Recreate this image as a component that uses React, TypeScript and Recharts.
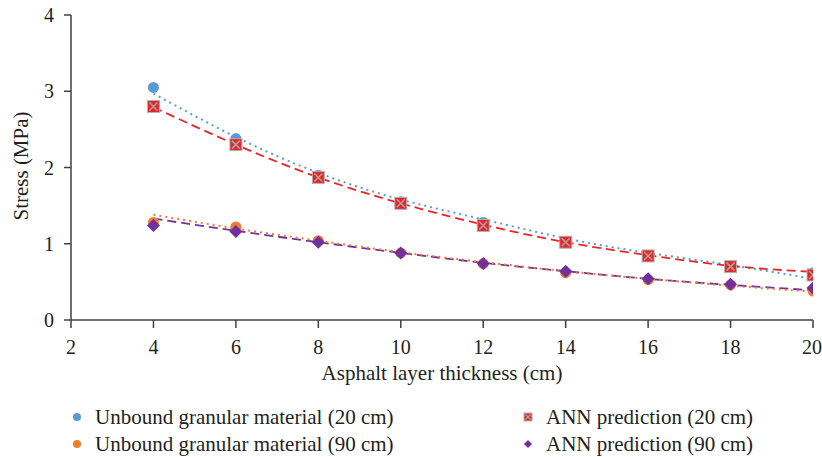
import React from 'react';
import {
  ComposedChart,
  Line,
  Scatter,
  XAxis,
  YAxis,
  Label,
} from 'recharts';

// asphalt layer thickness (cm)
const thickness = [4, 6, 8, 10, 12, 14, 16, 18, 20];

// measured / predicted stress (MPa)
const ugm20 = [3.05, 2.38, 1.9, 1.55, 1.28, 1.03, 0.85, 0.7, 0.62];
const ugm90 = [1.28, 1.22, 1.04, 0.88, 0.74, 0.62, 0.53, 0.46, 0.38];
const ann20 = [2.8, 2.3, 1.87, 1.53, 1.24, 1.02, 0.84, 0.7, 0.59];
const ann90 = [1.24, 1.16, 1.02, 0.88, 0.74, 0.64, 0.54, 0.47, 0.42];

// trendlines
const ugm20Trend = [2.97, 2.4, 1.93, 1.58, 1.32, 1.07, 0.88, 0.72, 0.54];
const ann20Trend = [2.79, 2.3, 1.87, 1.53, 1.25, 1.02, 0.85, 0.71, 0.63];
const ugm90Trend = [1.38, 1.2, 1.04, 0.89, 0.76, 0.64, 0.54, 0.45, 0.37];
const ann90Trend = [1.33, 1.17, 1.02, 0.88, 0.75, 0.64, 0.54, 0.46, 0.39];

const xTicks = [2, 4, 6, 8, 10, 12, 14, 16, 18, 20];
const yTicks = [0, 1, 2, 3, 4];

const data = thickness.map((x, i) => ({
  x,
  ugm20: ugm20[i],
  ugm90: ugm90[i],
  ann20: ann20[i],
  ann90: ann90[i],
  ugm20Trend: ugm20Trend[i],
  ann20Trend: ann20Trend[i],
  ugm90Trend: ugm90Trend[i],
  ann90Trend: ann90Trend[i],
}));

const BLUE = '#5b9bd5';
const ORANGE = '#ed7d31';
const RED = '#e8262a';
const PURPLE = '#7030a0';
const TEXT = '#231f20';
const AXIS = '#404040';
const FONT = '"Liberation Serif", "DejaVu Serif", serif';

const Dot = (color: string, r: number) => (p: any) => (
  <circle cx={p.cx} cy={p.cy} r={r} fill={color} />
);

const redBox = (s: number) => (p: any) => {
  const { cx, cy } = p;
  return (
    <g>
      <rect x={cx - s} y={cy - s} width={s * 2} height={s * 2} fill={RED} stroke="#b3b3b3" strokeWidth={1} />
      <path
        d={`M${cx - s + 2} ${cy - s + 2}L${cx + s - 2} ${cy + s - 2}M${cx + s - 2} ${cy - s + 2}L${cx - s + 2} ${cy + s - 2}`}
        stroke="#a6a6a6"
        strokeWidth={1.5}
      />
    </g>
  );
};

const diamond = (s: number) => (p: any) => {
  const { cx, cy } = p;
  return (
    <path d={`M${cx} ${cy - s}L${cx + s} ${cy}L${cx} ${cy + s}L${cx - s} ${cy}Z`} fill={PURPLE} />
  );
};

const legendItems = [
  { label: 'Unbound granular material (20 cm)', kind: 'blue', left: 72, top: 404 },
  { label: 'Unbound granular material (90 cm)', kind: 'orange', left: 72, top: 431 },
  { label: 'ANN prediction (20 cm)', kind: 'red', left: 523, top: 404 },
  { label: 'ANN prediction (90 cm)', kind: 'purple', left: 523, top: 431 },
];

const LegendIcon = ({ kind }: { kind: string }) => {
  if (kind === 'blue' || kind === 'orange')
    return (
      <svg width={10} height={10}>
        <circle cx={5} cy={5} r={4} fill={kind === 'blue' ? BLUE : ORANGE} />
      </svg>
    );
  if (kind === 'red')
    return (
      <svg width={10} height={10}>
        <rect x={1} y={1} width={8} height={8} fill={RED} stroke="#b3b3b3" />
        <path d="M2.5 2.5L7.5 7.5M7.5 2.5L2.5 7.5" stroke="#a6a6a6" strokeWidth={1.1} />
      </svg>
    );
  return (
    <svg width={10} height={10}>
      <path d="M5 1L9 5L5 9L1 5Z" fill={PURPLE} />
    </svg>
  );
};

export default function App() {
  return (
    <div style={{ position: 'absolute', left: 0, top: 0, width: 822, height: 457, background: '#fff', fontFamily: FONT, overflow: 'hidden' }}>
      <ComposedChart width={822} height={457} data={data} margin={{ top: 15, right: 9, left: 0, bottom: 77 }}>
        <XAxis
          dataKey="x"
          type="number"
          domain={[2, 20]}
          ticks={xTicks}
          height={60}
          allowDataOverflow
          stroke={AXIS}
          strokeWidth={1.5}
          tickSize={8}
          tickMargin={12}
          tick={{ fill: TEXT, fontSize: 20, fontFamily: FONT }}
        >
          <Label
            value="Asphalt layer thickness (cm)"
            position="insideBottom"
            offset={0}
            style={{ fill: TEXT, fontSize: 21, fontFamily: FONT }}
          />
        </XAxis>
        <YAxis
          type="number"
          domain={[0, 4]}
          ticks={yTicks}
          width={71}
          stroke={AXIS}
          strokeWidth={1.5}
          tickSize={7}
          tickMargin={10}
          tick={{ fill: TEXT, fontSize: 20, fontFamily: FONT }}
        >
          <Label
            content={() => (
              <text
                x={28}
                y={166}
                transform="rotate(-90, 28, 166)"
                textAnchor="middle"
                fill={TEXT}
                fontSize={21}
                fontFamily={FONT}
              >
                Stress (MPa)
              </text>
            )}
          />
        </YAxis>

        <Line dataKey="ugm20Trend" type="natural" stroke={BLUE} strokeWidth={2} strokeDasharray="2 4" dot={false} activeDot={false} isAnimationActive={false} />
        <Line dataKey="ann20Trend" type="natural" stroke={RED} strokeWidth={1.8} strokeDasharray="9 5" dot={false} activeDot={false} isAnimationActive={false} />
        <Line dataKey="ann90Trend" type="natural" stroke={PURPLE} strokeWidth={1.8} strokeDasharray="9 5" dot={false} activeDot={false} isAnimationActive={false} />
        <Line dataKey="ugm90Trend" type="natural" stroke={ORANGE} strokeWidth={2} strokeDasharray="2 4" dot={false} activeDot={false} isAnimationActive={false} />

        <Scatter dataKey="ugm20" fill={BLUE} shape={Dot(BLUE, 5.5)} isAnimationActive={false} />
        <Scatter dataKey="ugm90" fill={ORANGE} shape={Dot(ORANGE, 5.5)} isAnimationActive={false} />
        <Scatter dataKey="ann20" fill={RED} shape={redBox(6)} isAnimationActive={false} />
        <Scatter dataKey="ann90" fill={PURPLE} shape={diamond(6.5)} isAnimationActive={false} />
      </ComposedChart>

      {legendItems.map((it) => (
        <div
          key={it.label}
          style={{
            position: 'absolute',
            left: it.left,
            top: it.top,
            display: 'flex',
            alignItems: 'center',
            fontSize: 21,
            color: TEXT,
            lineHeight: '26px',
            whiteSpace: 'nowrap',
          }}
        >
          <LegendIcon kind={it.kind} />
          <span style={{ marginLeft: 13 }}>{it.label}</span>
        </div>
      ))}
    </div>
  );
}
